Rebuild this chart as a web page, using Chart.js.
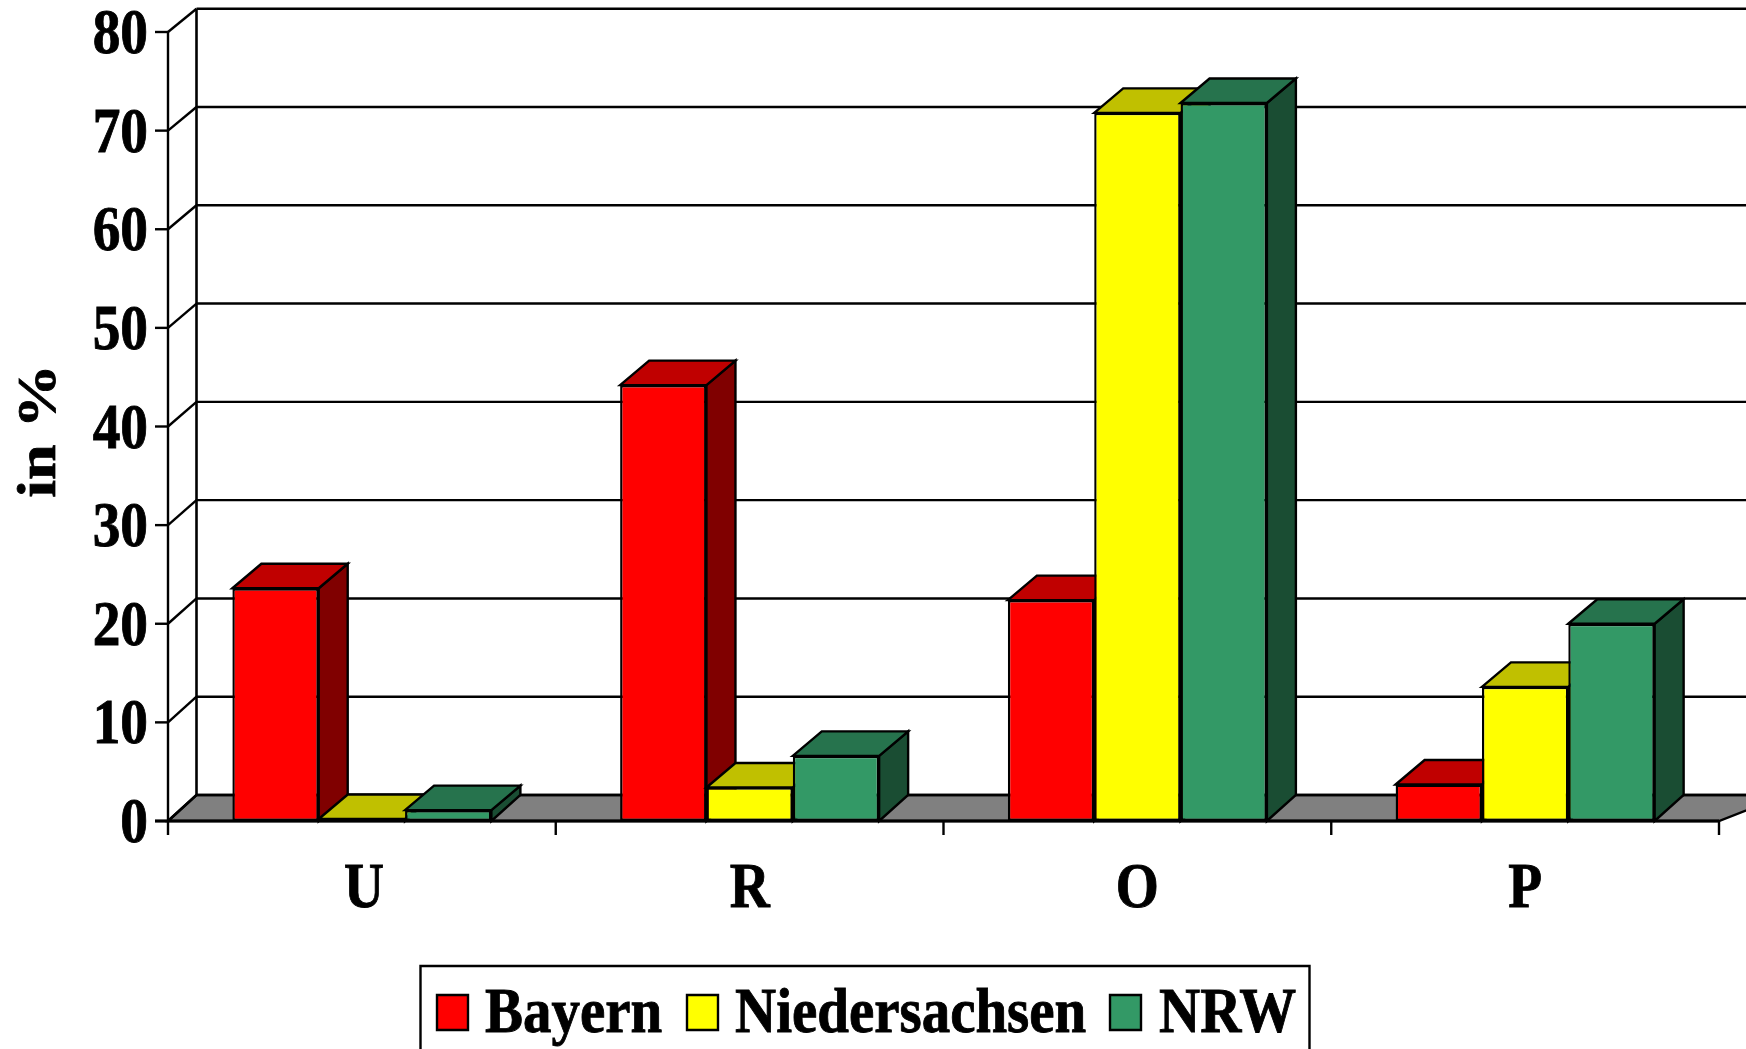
<!DOCTYPE html>
<html>
<head>
<meta charset="utf-8">
<style>html,body{margin:0;padding:0;background:#fff;overflow:hidden}canvas{display:block}</style>
<script src="https://cdn.jsdelivr.net/npm/chart.js@4"></script>
</head>
<body>
<canvas id="c" width="1746" height="1049"></canvas>
<script>
const categories = ['U', 'R', 'O', 'P'];
const bayern = [23.6, 44.2, 22.4, 3.7];
const niedersachsen = [0.2, 3.4, 71.8, 13.6];
const nrw = [1.1, 6.6, 72.8, 20.0];
const yMin = 0, yMax = 80, yStep = 10;
const yTitle = 'in %';

const FONT = 'bold 64px "Liberation Serif"';
const SX = 0.865;           // the reference's type is squeezed horizontally
const DX = 29, DY_TOP = 24.5, DY_BASE = 26, LW = 2.4;

function label(ctx, text, x, y, align, sx) {
  ctx.save();
  ctx.translate(x, y);
  ctx.scale(sx || SX, 1);
  ctx.font = FONT;
  ctx.fillStyle = '#000';
  ctx.strokeStyle = '#000';
  ctx.lineWidth = 0.9;
  ctx.textAlign = align;
  ctx.textBaseline = 'alphabetic';
  ctx.fillText(text, 0, 0);
  ctx.strokeText(text, 0, 0);
  ctx.restore();
}
function poly(ctx, pts, fill) {
  ctx.beginPath();
  pts.forEach((p, i) => i ? ctx.lineTo(p[0], p[1]) : ctx.moveTo(p[0], p[1]));
  ctx.closePath();
  ctx.fillStyle = fill;
  ctx.fill();
  ctx.lineWidth = LW;
  ctx.strokeStyle = '#000';
  ctx.lineJoin = 'miter';
  ctx.stroke();
}
function seg(ctx, x1, y1, x2, y2, w) {
  ctx.beginPath();
  ctx.moveTo(x1, y1);
  ctx.lineTo(x2, y2);
  ctx.lineWidth = w || LW;
  ctx.strokeStyle = '#000';
  ctx.stroke();
}

const box3d = {
  id: 'box3d',
  beforeDatasetsDraw(chart) {
    const { ctx, scales: { x, y }, width } = chart;
    const left = x.left, right = x.right;
    const base = y.getPixelForValue(yMin);
    const wallX = left + DX - 0.5;
    const wallOffset = v => DY_BASE - (DY_BASE - 23.3) * (v - yMin) / (yMax - yMin);
    // floor
    const fy = base - wallOffset(yMin);
    poly(ctx, [[left, base], [wallX, fy], [width + 40, fy], [right, base]], '#808080');
    // grid on the back wall and side-wall diagonals
    y.ticks.forEach(t => {
      const py = y.getPixelForValue(t.value);
      const wy = py - wallOffset(t.value);
      seg(ctx, wallX, wy, width, wy);
      seg(ctx, left, py, wallX, wy);
    });
    seg(ctx, wallX, y.getPixelForValue(yMax) - wallOffset(yMax), wallX, fy, 2.6);
    // left-to-right painter's order: later series overlap earlier ones
    chart.getSortedVisibleDatasetMetas().forEach(meta => {
      const ds = chart.data.datasets[meta.index];
      meta.data.forEach(bar => {
        const p = bar.getProps(['x', 'y', 'width', 'base'], true);
        const l = p.x - p.width / 2, r = p.x + p.width / 2, t = p.y, b = base;
        poly(ctx, [[r, t], [r + DX, t - DY_TOP], [r + DX, b - DY_BASE], [r, b]], ds.sideColor);
        poly(ctx, [[l, t], [l + DX, t - DY_TOP], [r + DX, t - DY_TOP], [r, t]], ds.topColor);
      });
      meta.controller.draw();
    });
  },
  beforeDatasetDraw() { return false; },
  afterDatasetsDraw(chart) {
    const { ctx, scales: { x, y } } = chart;
    const left = x.left, right = x.right;
    const base = y.getPixelForValue(yMin);
    // axes and tick marks
    seg(ctx, left, y.getPixelForValue(yMax), left, base + 14);
    seg(ctx, left - 13, base, right, base, 3);
    categories.forEach((c, i) => {
      const px = x.getPixelForValue(i + 0.5);
      seg(ctx, px, base, px, base + 14);
    });
    y.ticks.forEach(t => {
      const py = y.getPixelForValue(t.value);
      seg(ctx, left - 13, py, left, py);
      label(ctx, String(t.value), left - 20, py + 21, 'right');
    });
    categories.forEach((c, i) => {
      label(ctx, c, x.getPixelForTick(i) + (i === 0 ? 2 : 0), 907, 'center');
    });
    // axis title
    ctx.save();
    ctx.translate(55, 431);
    ctx.rotate(-Math.PI / 2);
    ctx.scale(1, SX);
    ctx.font = FONT;
    ctx.fillStyle = '#000';
    ctx.strokeStyle = '#000';
    ctx.lineWidth = 0.9;
    ctx.textAlign = 'center';
    ctx.fillText(yTitle, 0, 0);
    ctx.strokeText(yTitle, 0, 0);
    ctx.restore();
    // legend
    ctx.beginPath();
    ctx.rect(420.5, 966, 889, 120);
    ctx.lineWidth = 2.4;
    ctx.strokeStyle = '#000';
    ctx.stroke();
    const marks = [437, 687, 1110], texts = [485, 735, 1159];
    chart.data.datasets.forEach((ds, i) => {
      poly(ctx, [[marks[i], 995], [marks[i] + 31, 995], [marks[i] + 31, 1030], [marks[i], 1030]], ds.backgroundColor);
      label(ctx, ds.label, texts[i], 1032, 'left', 0.89);
    });
  }
};

new Chart(document.getElementById('c'), {
  type: 'bar',
  data: {
    labels: categories,
    datasets: [
      { label: 'Bayern', data: bayern, backgroundColor: '#ff0000', topColor: '#c00000', sideColor: '#800000' },
      { label: 'Niedersachsen', data: niedersachsen, backgroundColor: '#ffff00', topColor: '#c0c000', sideColor: '#808000' },
      { label: 'NRW', data: nrw, backgroundColor: '#339966', topColor: '#26734d', sideColor: '#1a4d33' }
    ].map(d => Object.assign(d, {
      borderColor: '#000', borderWidth: 2.4, borderSkipped: false, clip: false,
      categoryPercentage: 0.668, barPercentage: 1
    }))
  },
  options: {
    responsive: false,
    animation: false,
    events: [],
    layout: { padding: { left: 0, right: 27, top: 32, bottom: 0 } },
    plugins: { legend: { display: false }, tooltip: { enabled: false }, title: { display: false } },
    scales: {
      x: {
        grid: { display: false }, border: { display: false }, ticks: { display: false },
        afterFit(s) { s.height = 228; }
      },
      y: {
        min: yMin, max: yMax,
        grid: { display: false }, border: { display: false },
        ticks: { display: false, stepSize: yStep },
        afterFit(s) { s.width = 168; }
      }
    }
  },
  plugins: [box3d]
});
</script>
</body>
</html>
